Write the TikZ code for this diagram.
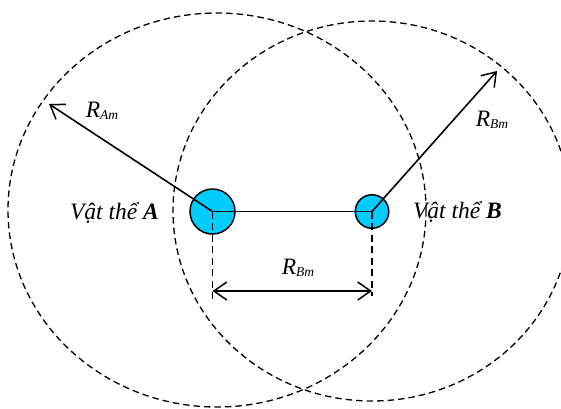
\documentclass[tikz,border=0pt]{standalone}
\usepackage{fontspec}
\setmainfont{Liberation Serif}
\usetikzlibrary{arrows.meta}
\tikzset{
  zone/.style={dash pattern=on 6.5pt off 4pt, line width=1.3pt},
  guide/.style={dash pattern=on 7pt off 4.5pt, line width=1.4pt},
  body/.style={circle, draw, line width=1.5pt, fill={rgb,255:red,0;green,204;blue,255}, inner sep=0pt},
  link/.style={line width=1.6pt},
  tipx/.tip={Straight Barb[length=13pt,width=18pt,line width=1.5pt]},
  vec/.style={line width=1.6pt, -tipx},
  dim/.style={line width=1.6pt, tipx-tipx},
  lbl/.style={font=\fontsize{23.5}{27}\selectfont\itshape, inner sep=0pt}
}
\newcommand{\subl}[1]{\raisebox{-2pt}{\fontsize{13.5}{14}\selectfont #1}}
\begin{document}
\begin{tikzpicture}[x=1pt,y=-1pt]
\useasboundingbox (0,0) rectangle (561,408);
\clip (0,0) rectangle (561,408);
% zones
\draw[zone] (217,210) ellipse [x radius=209, y radius=197];
\draw[zone] (372,211) ellipse [x radius=199, y radius=190];
% bodies
\node[body, minimum size=45pt] (A) at (212.5,211.5) {};
\node[body, minimum size=33.5pt] (B) at (372,211.5) {};
% coordinates
\coordinate (tipA) at (49,104);
\coordinate (tipB) at (497,71);
\coordinate (dA) at (212.5,302);
\coordinate (dB) at (372,296);
\coordinate (aL) at (212.5,291);
\coordinate (aR) at (372,291);
% lines
\draw[link] (A.center) -- (B.center);
\draw[vec] (A.center) -- (tipA);
\draw[vec] (B.center) -- (tipB);
\draw[guide] (A.center) -- (dA);
\draw[guide] (B.center) -- (dB);
\draw[dim] (aL) -- (aR);
% labels
\node[lbl] (lRA) at (102,111) {R\subl{Am}};
\node[lbl] (lRB) at (492,120) {R\subl{Bm}};
\node[lbl] (lRd) at (298,268) {R\subl{Bm}};
\node[lbl] (lA) at (114.5,213) {Vật thể \textbf{A}};
\node[lbl] (lB) at (457.5,212) {Vật thể \textbf{B}};
\end{tikzpicture}
\end{document}
